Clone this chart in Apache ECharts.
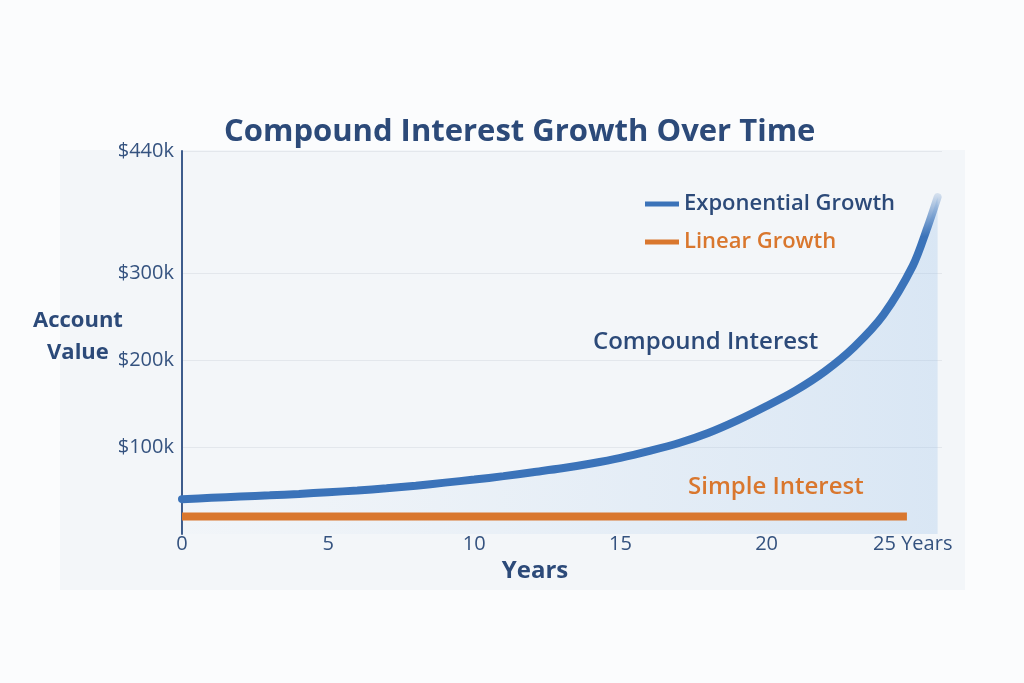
<!DOCTYPE html>
<html>
<head>
<meta charset="utf-8">
<script src="https://cdn.jsdelivr.net/npm/echarts@6/dist/echarts.min.js"></script>
<style>
html,body{margin:0;padding:0;background:#fbfcfd;}
#chart{width:1024px;height:683px;}
</style>
</head>
<body>
<div id="chart"></div>
<script>
// ---- data ----
const titleText = 'Compound Interest Growth Over Time';
const seriesNames = ['Exponential Growth', 'Linear Growth'];
const annotations = ['Compound Interest', 'Simple Interest'];
const compoundYears  = [0, 1, 2, 3, 4, 5, 6, 7, 8, 9, 10, 11, 12, 13, 14, 15, 16, 17, 18, 19, 20, 21, 22, 23, 24, 25, 25.5, 25.85];
const compoundValues = [40000, 41600, 43000, 44400, 46000, 48000, 50000, 52500, 55500, 59000, 62500, 66500, 71000, 75500, 81000, 87500, 95500, 104500, 116000, 130500, 147000, 165000, 187000, 215000, 252000, 308000, 352000, 387000];
const simpleYears  = [0, 5, 10, 15, 20, 24.8];
const simpleValues = [20000, 20000, 20000, 20000, 20000, 20000];
const xTickValues = [0, 5, 10, 15, 20, 25];
const xTickLabels = ['0', '5', '10', '15', '20', '25 Years'];
const yTickValues = [100000, 200000, 300000, 440000];
const yTickLabels = ['$100k', '$200k', '$300k', '$440k'];

const navy = '#2c4a79';
const blue = '#3b73b9';
const orange = '#d9772e';
const FONT = '"Open Sans", "Noto Sans", sans-serif';

const chart = echarts.init(document.getElementById('chart'));
chart.setOption({
  backgroundColor: '#fbfcfd',
  textStyle: { fontFamily: FONT },
  title: {
    text: titleText,
    left: 219,
    top: 112,
    textStyle: { fontFamily: FONT, fontSize: 31, fontWeight: 'bold', color: navy }
  },
  legend: {
    orient: 'vertical',
    left: 640,
    top: 188,
    itemGap: 16,
    icon: 'rect',
    itemWidth: 34,
    itemHeight: 5,
    textStyle: { fontFamily: FONT, fontSize: 22, fontWeight: 600 },
    data: [
      { name: seriesNames[0], textStyle: { color: navy } },
      { name: seriesNames[1], textStyle: { color: orange } }
    ]
  },
  grid: { left: 182, right: 82, top: 151, bottom: 149 },
  xAxis: {
    type: 'value',
    min: 0,
    max: 26,
    name: 'Years',
    nameLocation: 'middle',
    nameGap: 24,
    nameTextStyle: { fontFamily: FONT, fontSize: 24, fontWeight: 'bold', color: navy, padding: [0, 54, 0, 0] },
    axisLine: { show: false },
    axisTick: { show: false, customValues: xTickValues },
    splitLine: { show: false },
    axisLabel: {
      customValues: xTickValues,
      margin: 0,
      fontSize: 20,
      color: '#34527f',
      formatter: v => xTickLabels[xTickValues.indexOf(v)] || ''
    }
  },
  yAxis: {
    type: 'value',
    min: 0,
    max: 440000,
    axisLine: { show: true, lineStyle: { color: '#3d5c8c', width: 2 } },
    axisTick: { show: false, customValues: yTickValues },
    splitLine: { show: true, lineStyle: { color: '#e3e7ec', width: 1 } },
    axisLabel: {
      customValues: yTickValues,
      margin: 8,
      fontSize: 20,
      color: '#34527f',
      formatter: v => yTickLabels[yTickValues.indexOf(v)] || ''
    }
  },
  graphic: {
    elements: [
      { type: 'rect', z: -10, silent: true, shape: { x: 60, y: 150, width: 905, height: 440 },
        style: { fill: '#f3f6f9' } },
      { type: 'text', left: 33, top: 305, silent: true, z: 100,
        style: { text: 'Account\nValue', fontFamily: FONT, fontSize: 22, fontWeight: 'bold',
                 fill: navy, align: 'center', lineHeight: 32, textAlign: 'center' } },
      { type: 'text', left: 593, top: 330, silent: true, z: 100,
        style: { text: annotations[0], fontFamily: FONT, fontSize: 24, fontWeight: 600, fill: navy } },
      { type: 'text', left: 688, top: 475, silent: true, z: 100,
        style: { text: annotations[1], fontFamily: FONT, fontSize: 24, fontWeight: 600, fill: orange } }
    ]
  },
  series: [
    {
      name: seriesNames[0],
      type: 'line',
      smooth: 0.3,
      showSymbol: false,
      data: compoundYears.map((x, i) => [x, compoundValues[i]]),
      itemStyle: { color: blue },
      lineStyle: {
        width: 8,
        cap: 'round',
        color: new echarts.graphic.LinearGradient(0, 0, 0, 1, [
          { offset: 0, color: 'rgba(59,115,185,0.15)' },
          { offset: 0.14, color: blue },
          { offset: 1, color: blue }
        ])
      },
      areaStyle: {
        color: new echarts.graphic.LinearGradient(0, 0, 1, 0, [
          { offset: 0, color: 'rgba(190,212,236,0.05)' },
          { offset: 0.6, color: 'rgba(160,195,232,0.25)' },
          { offset: 1, color: 'rgba(150,190,232,0.40)' }
        ])
      },
      z: 3
    },
    {
      name: seriesNames[1],
      type: 'line',
      showSymbol: false,
      data: simpleYears.map((x, i) => [x, simpleValues[i]]),
      itemStyle: { color: orange },
      lineStyle: { width: 8, color: orange, cap: 'butt' },
      z: 4
    }
  ]
});
</script>
</body>
</html>
